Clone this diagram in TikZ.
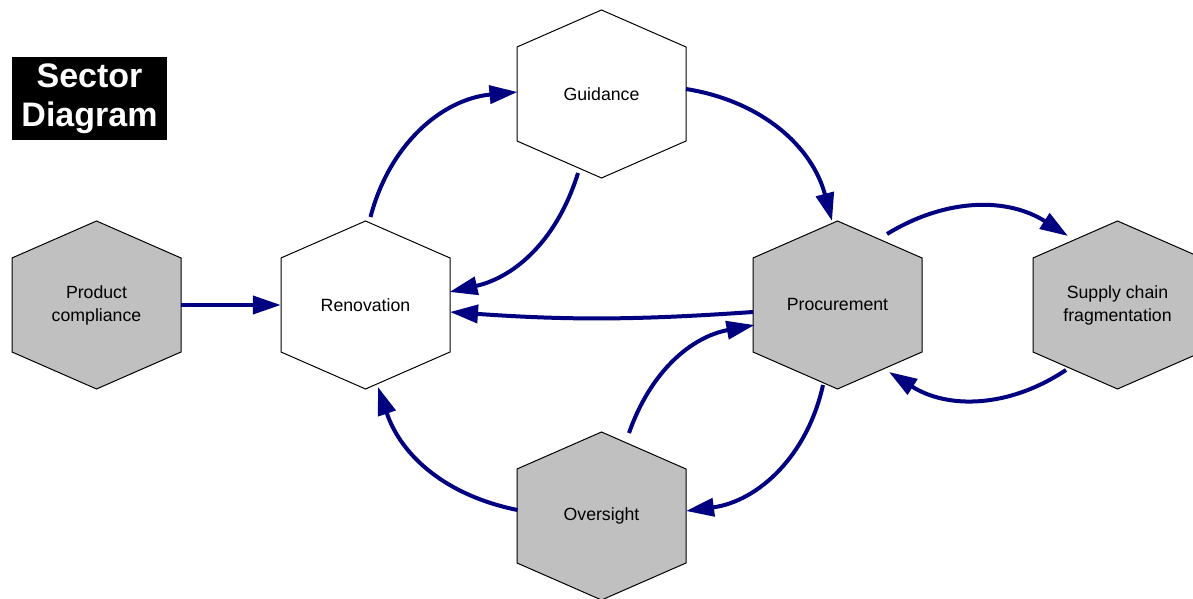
\documentclass[tikz,border=0pt]{standalone}
\usepackage{fontspec}
\setmainfont{Liberation Sans}
\usetikzlibrary{arrows.meta,calc,backgrounds}
\definecolor{navyc}{RGB}{0,0,128}
\definecolor{hexgray}{RGB}{192,192,192}
\newcommand\hexshape[2]{\filldraw[hexline, fill=#2] ($(#1.center)+(0,84)$) -- ($(#1.center)+(84.5,47)$) -- ($(#1.center)+(84.5,-47)$) -- ($(#1.center)+(0,-84)$) -- ($(#1.center)+(-84.5,-47)$) -- ($(#1.center)+(-84.5,47)$) -- cycle;}
\begin{document}
\begin{tikzpicture}[x=1pt,y=1pt,
  hexnode/.style={minimum width=169pt, minimum height=168pt, inner sep=0pt, align=center, font=\fontsize{17.7}{23}\selectfont, text=black},
  conn/.style={draw=navyc, line width=4pt, -{Triangle[length=28pt,width=18pt]}},
  hexline/.style={draw=black, line width=1pt},
  titlebox/.style={fill=black, text=white, font=\bfseries\fontsize{34}{39}\selectfont, align=center, minimum width=155pt, minimum height=83pt, inner sep=0pt}
]
\useasboundingbox (0,0) rectangle (1193,599);

\node[titlebox] (title) at (89.5,500.5) {Sector\\Diagram};

\node[hexnode] (prod) at (96.5,294) {Product\\compliance};
\node[hexnode] (ren)  at (365.5,294) {Renovation};
\node[hexnode] (gui)  at (601.5,505) {Guidance};
\node[hexnode] (proc) at (837.5,294) {Procurement};
\node[hexnode] (sup)  at (1117.5,294) {Supply chain\\fragmentation};
\node[hexnode] (over) at (601.5,83) {Oversight};

\begin{scope}[on background layer]
  \fill[white] (0,0) rectangle (1193,599);
  \hexshape{prod}{hexgray}
  \hexshape{ren}{white}
  \hexshape{gui}{white}
  \hexshape{proc}{hexgray}
  \hexshape{sup}{hexgray}
  \hexshape{over}{hexgray}
\end{scope}

\draw[conn] (prod.east) -- (ren.west);
\draw[conn] ($(ren.center)+(5,88)$) to[bend left=35] ($(gui.center)+(-84,2)$);
\draw[conn] ($(gui.center)+(-23.5,-79)$) to[bend left=30] ($(ren.center)+(84,13)$);
\draw[conn] ($(gui.center)+(84.5,5)$) to[bend left=33] ($(proc.center)+(-5.5,84)$);
\draw[conn] ($(proc.center)+(-84.5,-7)$) to[bend left=4] ($(ren.center)+(84.5,-7)$);
\draw[conn] ($(proc.center)+(49.5,71)$) to[bend left=32] ($(sup.center)+(-49.5,69)$);
\draw[conn] ($(sup.center)+(-51.5,-65)$) to[bend left=33] ($(proc.center)+(51.5,-67)$);
\draw[conn] ($(proc.center)+(-14.5,-80)$) to[bend left=35] ($(over.center)+(84.5,5)$);
\draw[conn] ($(over.center)+(27.5,83)$) to[bend left=30] ($(proc.center)+(-83,-20)$);
\draw[conn] ($(over.center)+(-84,6)$) to[bend left=30] ($(ren.center)+(12.5,-82)$);
\end{tikzpicture}
\end{document}
